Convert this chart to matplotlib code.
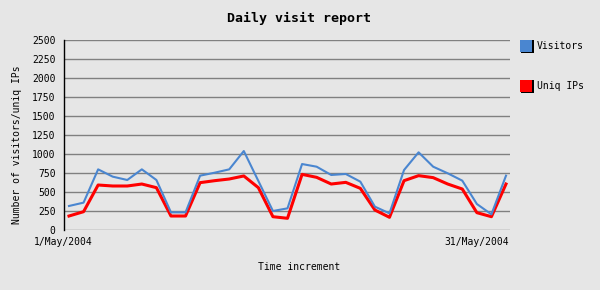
import matplotlib.pyplot as plt
from matplotlib.patches import Rectangle

# daily values, 1..31 May 2004
days = list(range(1, 32))
visitors = [316, 360, 798, 702, 658, 798, 658, 232, 232, 715,
            754, 798, 1039, 645, 250, 285, 868, 833, 724, 737,
            636, 307, 219, 789, 1022, 833, 746, 649, 342, 206, 715]
uniq_ips = [184, 241, 592, 579, 579, 605, 557, 184, 184, 623,
            649, 671, 711, 557, 175, 154, 732, 693, 605, 627,
            548, 263, 167, 649, 715, 689, 605, 539, 228, 175, 605]
yticks = list(range(0, 2501, 250))
series_names = ["Visitors", "Uniq IPs"]
colors = ["#4a86d0", "#ff0000"]

bg = "#e6e6e6"
fnt = "DejaVu Sans Mono"

fig = plt.figure(figsize=(6, 2.9), dpi=100, facecolor=bg)
ax = fig.add_axes([64/600, 60/290, 446/600, 190/290])
ax.set_facecolor(bg)

x = list(range(len(days)))
ax.plot(x, visitors, color=colors[0], lw=1.5)
ax.plot(x, uniq_ips, color=colors[1], lw=2.2, zorder=1.9)

ax.set_xlim(-5/14.57, 30 + 4/14.57)
ax.set_ylim(0, 2500)
ax.set_yticks(yticks)
ax.set_yticklabels([str(v) for v in yticks], fontsize=7, family=fnt)
ax.tick_params(axis="y", length=0, pad=6)
ax.set_xticks([])
for v in yticks:
    ax.axhline(v, color="#808080", lw=1, zorder=0)

for s in ["top", "right", "bottom"]:
    ax.spines[s].set_visible(False)
ax.spines["left"].set_color("black")
ax.spines["left"].set_linewidth(1)

fig.text(63/600, 1 - 242/290, "1/May/2004", ha="center", va="center", fontsize=7, family=fnt)
fig.text(509/600, 1 - 242/290, "31/May/2004", ha="right", va="center", fontsize=7, family=fnt)
fig.text(299/600, 1 - 267/290, "Time increment", ha="center", va="center", fontsize=7, family=fnt)
fig.text(17/600, 1 - 145/290, "Number of visitors/uniq IPs", ha="center", va="center",
         rotation=90, fontsize=7, family=fnt)
fig.text(299/600, 1 - 18/290, "Daily visit report", ha="center", va="center",
         fontsize=9.5, family=fnt, fontweight="bold")

# legend boxes
for i, (name, c) in enumerate(zip(series_names, colors)):
    yc = 46 + 40 * i
    fig.patches.append(Rectangle((521/600, 1 - (yc + 7)/290), 13/600, 13/290,
                                 transform=fig.transFigure, facecolor="black", lw=0))
    fig.patches.append(Rectangle((520/600, 1 - (yc + 6)/290), 12/600, 12/290,
                                 transform=fig.transFigure, facecolor=c, lw=0))
    fig.text(537/600, 1 - yc/290, name, ha="left", va="center", fontsize=7, family=fnt)

fig.savefig("out.png", dpi=100, facecolor=bg)
